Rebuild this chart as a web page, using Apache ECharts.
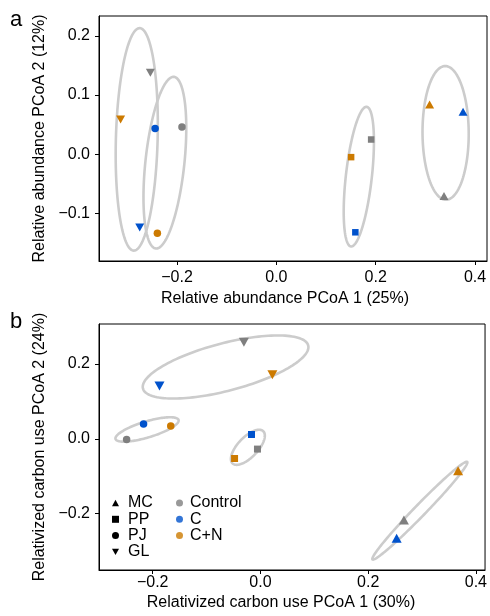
<!DOCTYPE html>
<html>
<head>
<meta charset="utf-8">
<script src="https://cdn.jsdelivr.net/npm/echarts@6/dist/echarts.min.js"></script>
<style>html,body{margin:0;padding:0;background:#fff}#c{width:490px;height:616px}</style>
</head>
<body>
<div id="c"></div>
<script>
// ---------- data ----------
const sites = ['MC', 'PP', 'PJ', 'GL'];
const treatments = ['Control', 'C', 'C+N'];
// Panel a: relative abundance PCoA, [x, y] for Control, C, C+N
const abundMC = [[0.3375, -0.0705], [0.3758, 0.0716], [0.3085, 0.084]];
const abundPP = [[0.1908, 0.0248], [0.159, -0.132], [0.1505, -0.005]];
const abundPJ = [[-0.190, 0.046], [-0.244, 0.0435], [-0.2395, -0.1337]];
const abundGL = [[-0.2536, 0.1376], [-0.275, -0.124], [-0.3135, 0.0587]];
// Panel b: relativized carbon use PCoA
const carbonMC = [[0.2664, -0.217], [0.2529, -0.266], [0.367, -0.0857]];
const carbonPP = [[-0.0055, -0.0276], [-0.0166, 0.0115], [-0.048, -0.0527]];
const carbonPJ = [[-0.2484, -0.002], [-0.217, 0.0393], [-0.1665, 0.034]];
const carbonGL = [[-0.0307, 0.258], [-0.1874, 0.141], [0.0222, 0.1714]];
// Ellipses: [cx, cy, ax, ay, bx, by] (centre and two conjugate semi-axes, data units)
const abundEllipses = [
  [0.3407, 0.0359, -0.0007, 0.113, 0.0465, 0],
  [0.166, -0.038, 0.0158, 0.118, 0.026, -0.0025],
  [-0.2244, -0.0144, 0.0183, 0.145, 0.039, -0.0035],
  [-0.281, 0.025, 0.006, 0.188, 0.042, -0.001]
];
const carbonEllipses = [
  [0.296, -0.1923, 0.0879, 0.1305, 0.0079, -0.0102],
  [-0.0233, -0.0228, 0.0285, 0.0431, 0.0134, -0.0185],
  [-0.2105, 0.0249, 0.0585, 0.0254, 0.0043, -0.0205],
  [-0.0647, 0.192, 0.1534, 0.0576, 0.011, -0.0617]
];
const xTicks = [-0.2, 0.0, 0.2, 0.4];
const yTicksA = [-0.1, 0.0, 0.1, 0.2];
const yTicksB = [-0.2, 0.0, 0.2];

// ---------- styles ----------
const FONT = 'Liberation Sans, Arial, Helvetica, sans-serif';
const treatColors = {'Control': '#7f7f7f', 'C': '#0052cc', 'C+N': '#cc7a00'};
const siteSymbols = {
  'MC': 'path://M5,0L10,9L0,9Z',
  'PP': 'rect',
  'PJ': 'circle',
  'GL': 'path://M0,0L10,0L5,9Z'
};
const siteSizesA = {'MC': [9, 8], 'PP': [6.5, 6.5], 'PJ': [7.5, 7.5], 'GL': [9, 8]};
const siteSizesB = {'MC': [10, 9], 'PP': [7, 7], 'PJ': [7.5, 7.5], 'GL': [10, 9]};
const abundData = {MC: abundMC, PP: abundPP, PJ: abundPJ, GL: abundGL};
const carbonData = {MC: carbonMC, PP: carbonPP, PJ: carbonPJ, GL: carbonGL};

const fmt = v => (Math.abs(v) < 1e-9 ? '0.0' : v.toFixed(1).replace('-', '\u2212'));

function xAxisDef(gridIndex, min, max, name, margin, gap, padRight) {
  return {
    type: 'value', gridIndex, min, max,
    name, nameLocation: 'middle', nameGap: gap,
    nameTextStyle: {fontFamily: FONT, fontSize: 16, color: '#000', padding: [0, padRight, 0, 0]},
    axisLine: {show: true, onZero: false, lineStyle: {color: '#000', width: 1}},
    axisTick: {show: true, length: 4, lineStyle: {color: '#000'}, customValues: xTicks},
    axisLabel: {fontFamily: FONT, fontSize: 16, color: '#000', margin, customValues: xTicks, formatter: fmt},
    splitLine: {show: false}
  };
}
function yAxisDef(gridIndex, min, max, name, ticks) {
  return {
    type: 'value', gridIndex, min, max,
    name, nameLocation: 'middle', nameGap: 46,
    nameTextStyle: {fontFamily: FONT, fontSize: 16, color: '#000'},
    axisLine: {show: true, onZero: false, lineStyle: {color: '#000', width: 1}},
    axisTick: {show: true, length: 4, lineStyle: {color: '#000'}, customValues: ticks},
    axisLabel: {fontFamily: FONT, fontSize: 16, color: '#000', margin: 9, customValues: ticks, formatter: fmt},
    splitLine: {show: false}
  };
}

function ellipseSeries(idx, data) {
  return {
    type: 'custom', xAxisIndex: idx, yAxisIndex: idx, z: 1,
    silent: true,
    dimensions: ['cx', 'cy', 'ax', 'ay', 'bx', 'by'],
    encode: {x: 0, y: 1},
    data: data,
    renderItem: function (params, api) {
      const cx = api.value(0), cy = api.value(1), ax = api.value(2), ay = api.value(3), bx = api.value(4), by = api.value(5);
      const pts = [];
      const n = 144;
      for (let i = 0; i < n; i++) {
        const t = 2 * Math.PI * i / n;
        const c = Math.cos(t), s = Math.sin(t);
        pts.push(api.coord([cx + ax * c + bx * s, cy + ay * c + by * s]));
      }
      return {type: 'polygon', shape: {points: pts}, style: {fill: 'none', stroke: '#cccccc', lineWidth: 2.6}};
    }
  };
}

function pointSeries(idx, site, values, sizes) {
  return {
    type: 'scatter', name: site, xAxisIndex: idx, yAxisIndex: idx, z: 3,
    symbol: siteSymbols[site], symbolSize: sizes[site],
    itemStyle: {color: '#000', opacity: 1},
    data: values.map((v, i) => ({value: v, itemStyle: {color: treatColors[treatments[i]]}}))
  };
}

const series = [ellipseSeries(0, abundEllipses), ellipseSeries(1, carbonEllipses)];
sites.forEach(s => series.push(pointSeries(0, s, abundData[s], siteSizesA)));
sites.forEach(s => series.push(pointSeries(1, s, carbonData[s], siteSizesB)));
treatments.forEach(t => series.push({
  type: 'scatter', name: t, xAxisIndex: 1, yAxisIndex: 1, symbol: 'circle',
  itemStyle: {color: treatColors[t]}, data: []
}));

const option = {
  animation: false,
  backgroundColor: '#fff',
  grid: [
    {left: 99, top: 16, width: 388, height: 245, show: true, borderColor: '#000', borderWidth: 1, backgroundColor: 'transparent'},
    {left: 99, top: 324, width: 388, height: 246, show: true, borderColor: '#000', borderWidth: 1, backgroundColor: 'transparent'}
  ],
  xAxis: [
    xAxisDef(0, -0.357, 0.424, 'Relative abundance PCoA 1 (25%)', 9, 30, 16),
    xAxisDef(1, -0.2997, 0.417, 'Relativized carbon use PCoA 1 (30%)', 5, 25, 22)
  ],
  yAxis: [
    yAxisDef(0, -0.1805, 0.2335, 'Relative abundance PCoA 2 (12%)', yTicksA),
    yAxisDef(1, -0.351, 0.307, 'Relativized carbon use PCoA 2 (24%)', yTicksB)
  ],
  legend: [
    {
      data: sites, orient: 'vertical', left: 107, top: 490, itemWidth: 7, itemHeight: 7, itemGap: 0.3,
      selectedMode: false,
      textStyle: {fontFamily: FONT, fontSize: 16, color: '#000', padding: [0, 0, 0, 4], lineHeight: 16}
    },
    {
      data: treatments, orient: 'vertical', left: 171, top: 490, itemWidth: 7, itemHeight: 7, itemGap: 0.3,
      selectedMode: false,
      textStyle: {fontFamily: FONT, fontSize: 16, color: '#000', padding: [0, 0, 0, 2], lineHeight: 16}
    }
  ],
  graphic: [
    {type: 'text', left: 10, top: 9, style: {text: 'a', font: '22px ' + FONT, fill: '#000'}},
    {type: 'text', left: 10, top: 311, style: {text: 'b', font: '22px ' + FONT, fill: '#000'}}
  ],
  series
};
const chart = echarts.init(document.getElementById('c'), null, {renderer: 'canvas'});
chart.setOption(option);
</script>
</body>
</html>
